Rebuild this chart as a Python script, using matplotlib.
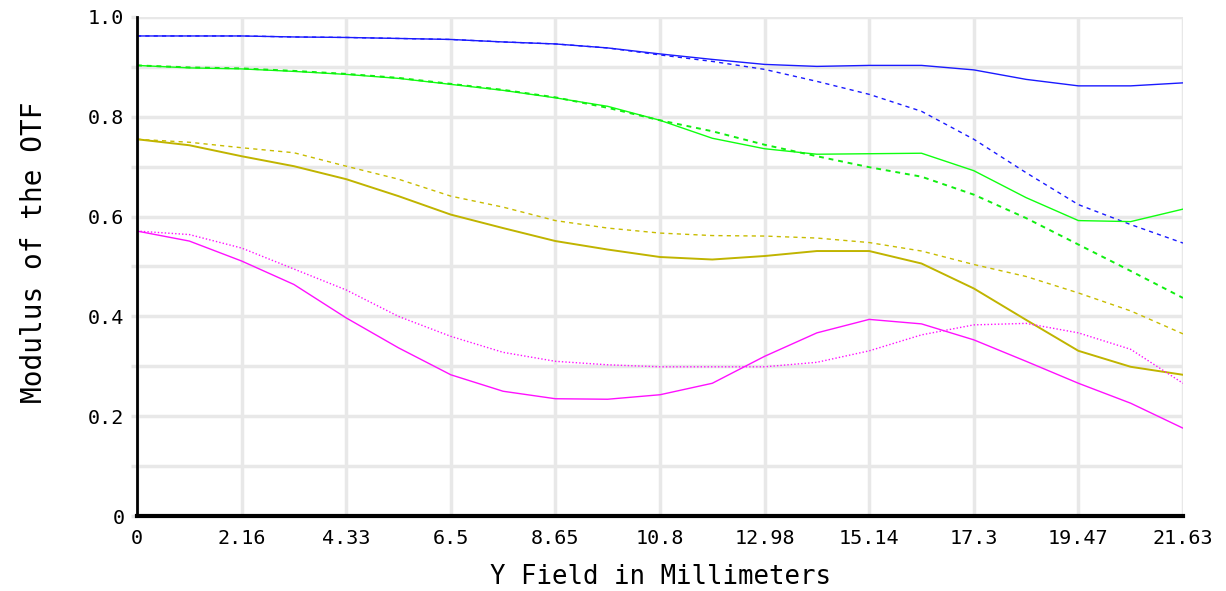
import numpy as np
import matplotlib
matplotlib.use("Agg")
import matplotlib.pyplot as plt
from matplotlib.ticker import FixedLocator, MultipleLocator

# Y field positions (mm)
field = [0.0, 1.0815, 2.163, 3.2445, 4.326, 5.4075, 6.489, 7.5705, 8.652, 9.7335,
         10.815, 11.8965, 12.978, 14.0595, 15.141, 16.2225, 17.304, 18.3855,
         19.467, 20.5485, 21.63]

blue_solid = [0.962, 0.962, 0.962, 0.960, 0.959, 0.957, 0.955, 0.950, 0.946, 0.938,
              0.926, 0.915, 0.905, 0.901, 0.903, 0.903, 0.894, 0.875, 0.862, 0.862, 0.868]
blue_dash = [0.962, 0.962, 0.962, 0.960, 0.959, 0.957, 0.955, 0.950, 0.946, 0.938,
             0.924, 0.911, 0.895, 0.871, 0.845, 0.811, 0.755, 0.688, 0.624, 0.584, 0.547]
green_solid = [0.903, 0.898, 0.896, 0.891, 0.885, 0.877, 0.865, 0.853, 0.838, 0.821,
               0.793, 0.757, 0.736, 0.725, 0.726, 0.727, 0.692, 0.638, 0.592, 0.590, 0.615]
green_dash = [0.903, 0.899, 0.897, 0.892, 0.886, 0.878, 0.866, 0.854, 0.839, 0.818,
              0.793, 0.771, 0.744, 0.721, 0.699, 0.680, 0.644, 0.597, 0.544, 0.491, 0.437]
olive_solid = [0.755, 0.743, 0.721, 0.701, 0.675, 0.641, 0.604, 0.577, 0.551, 0.534,
               0.519, 0.514, 0.521, 0.531, 0.531, 0.506, 0.456, 0.393, 0.331, 0.299, 0.283]
olive_dash = [0.755, 0.749, 0.738, 0.728, 0.701, 0.675, 0.641, 0.619, 0.592, 0.577,
              0.567, 0.562, 0.561, 0.557, 0.548, 0.531, 0.504, 0.480, 0.447, 0.411, 0.365]
magenta_solid = [0.571, 0.551, 0.511, 0.464, 0.397, 0.337, 0.283, 0.250, 0.235, 0.234,
                 0.243, 0.266, 0.320, 0.367, 0.394, 0.385, 0.353, 0.310, 0.266, 0.226, 0.176]
magenta_dot = [0.571, 0.564, 0.537, 0.495, 0.453, 0.400, 0.360, 0.328, 0.310, 0.303,
               0.299, 0.299, 0.299, 0.308, 0.331, 0.363, 0.383, 0.386, 0.367, 0.334, 0.266]

xtick_vals = [0, 2.163, 4.326, 6.489, 8.652, 10.815, 12.978, 15.141, 17.304, 19.467, 21.63]
xtick_labels = ['0', '2.16', '4.33', '6.5', '8.65', '10.8', '12.98', '15.14', '17.3', '19.47', '21.63']
ytick_vals = [0, 0.2, 0.4, 0.6, 0.8, 1.0]
ytick_labels = ['0', '0.2', '0.4', '0.6', '0.8', '1.0']

plt.rcParams['font.family'] = ['DejaVu Sans Mono']

fig = plt.figure(figsize=(12.26, 5.91), dpi=100)
ax = fig.add_axes([137/1226, 1 - 516/591, (1183-137)/1226, (516-17)/591])

ax.plot(field, blue_solid, color='#1a1aff', lw=1.0)
ax.plot(field, blue_dash, color='#1a1aff', lw=1.0, dashes=(3, 3))
ax.plot(field, green_solid, color='#10ff10', lw=1.0)
ax.plot(field, green_dash, color='#10ee10', lw=1.4, dashes=(2.5, 2.5))
ax.plot(field, olive_solid, color='#c0b400', lw=1.4)
ax.plot(field, olive_dash, color='#c8bc00', lw=1.0, dashes=(3, 3))
ax.plot(field, magenta_solid, color='#ff10ff', lw=1.0)
ax.plot(field, magenta_dot, color='#ff10ff', lw=1.0, dashes=(1, 1.5))

ax.set_xlim(0, 21.63)
ax.set_ylim(0, 1.0)
ax.xaxis.set_major_locator(FixedLocator(xtick_vals))
ax.set_xticklabels(xtick_labels)
ax.yaxis.set_major_locator(FixedLocator(ytick_vals))
ax.set_yticklabels(ytick_labels)
ax.yaxis.set_minor_locator(MultipleLocator(0.1))

ax.grid(True, which='both', color='#e8e8e8', lw=2.5)
ax.set_axisbelow(True)
for s in ['top', 'right']:
    ax.spines[s].set_visible(False)
ax.spines['left'].set_linewidth(2)
ax.spines['bottom'].set_linewidth(3)
ax.spines['left'].set_color('black')
ax.spines['bottom'].set_color('black')

ax.tick_params(axis='x', which='both', length=0, pad=9, labelsize=14.5)
ax.tick_params(axis='y', which='major', length=4, color='#e8e8e8', width=2.5, pad=5, labelsize=14.5)
ax.tick_params(axis='y', which='minor', length=4, color='#e8e8e8', width=2.5)

ax.set_xlabel('Y Field in Millimeters', fontsize=18.5)
ax.set_ylabel('Modulus of the OTF', fontsize=20)
ax.xaxis.set_label_coords(0.5, -0.097)
ax.yaxis.set_label_coords(-0.085, 0.529)

fig.savefig('out.png', dpi=100)
